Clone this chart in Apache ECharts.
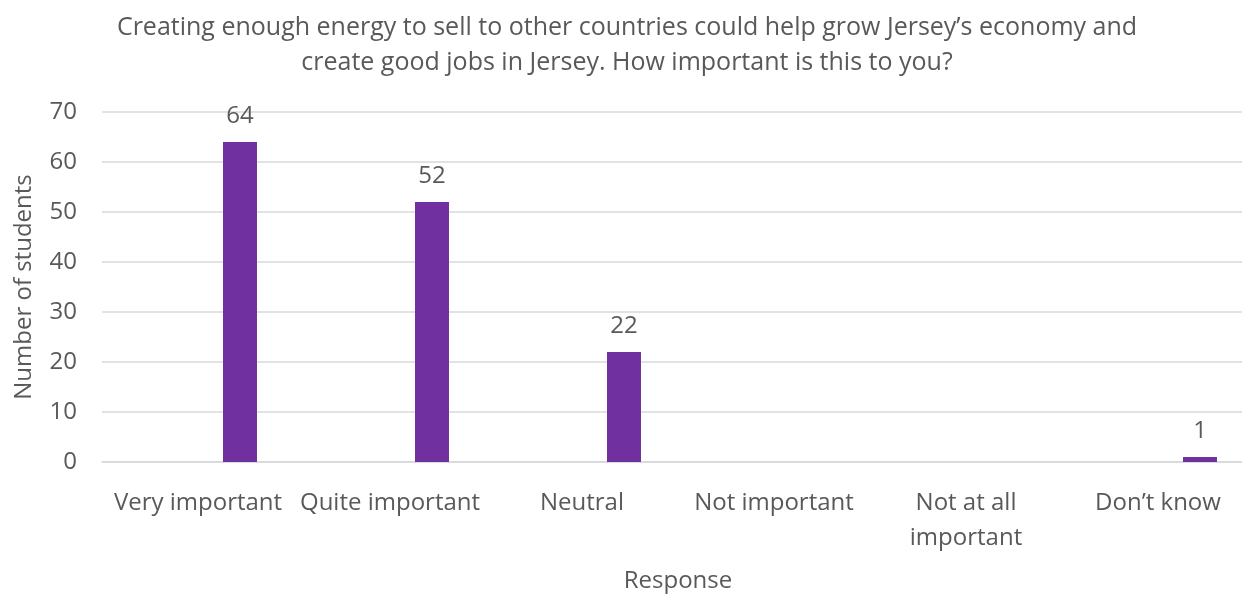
<!DOCTYPE html>
<html>
<head>
<meta charset="utf-8">
<script src="https://cdn.jsdelivr.net/npm/echarts@6/dist/echarts.min.js"></script>
<style>
html,body{margin:0;padding:0;background:#fff;}
#chart{width:1242px;height:595px;}
</style>
</head>
<body>
<div id="chart"></div>
<script>
var categories = ['Very important', 'Quite important', 'Neutral', 'Not important', 'Not at all\nimportant', 'Don\u2019t know'];
var students = [64, 52, 22, 0, 0, 1];
var yTicks = [0, 10, 20, 30, 40, 50, 60, 70];
var titleText = 'Creating enough energy to sell to other countries could help grow Jersey\u2019s economy and\ncreate good jobs in Jersey. How important is this to you?';
var emptySeries = [null, null, null, null, null, null];

var FONT = 'Open Sans';
var TXT = '#595959';
var FS = 24;
var chart = echarts.init(document.getElementById('chart'));
chart.setOption({
  animation: false,
  title: {
    text: titleText,
    left: 622, top: 5, textAlign: 'center',
    textStyle: {fontFamily: FONT, fontSize: 25, fontWeight: 'normal', color: TXT, lineHeight: 35}
  },
  grid: {left: 102, right: -12, top: 112, bottom: 133, outerBoundsMode: 'none', containLabel: false},
  xAxis: {
    type: 'category',
    data: categories,
    name: 'Response',
    nameLocation: 'middle',
    nameGap: 107,
    nameTextStyle: {fontFamily: FONT, fontSize: FS, color: TXT},
    axisLine: {lineStyle: {color: '#d9d9d9', width: 1.5}},
    axisTick: {show: false},
    axisLabel: {fontFamily: FONT, fontSize: FS, color: TXT, margin: 24, lineHeight: 35, interval: 0}
  },
  yAxis: {
    type: 'value',
    min: yTicks[0], max: yTicks[yTicks.length - 1], interval: 10,
    name: 'Number of students',
    nameLocation: 'middle',
    nameGap: 66,
    nameTextStyle: {fontFamily: FONT, fontSize: FS, color: TXT},
    axisLine: {show: false},
    axisTick: {show: false},
    axisLabel: {fontFamily: FONT, fontSize: FS, color: TXT, margin: 25},
    splitLine: {lineStyle: {color: '#d9d9d9', width: 1.5}}
  },
  series: [
    {type: 'bar', data: emptySeries, barWidth: 34, barGap: '23.5%'},
    {type: 'bar', data: emptySeries, barWidth: 34, barGap: '23.5%'},
    {
      type: 'bar', data: students, barWidth: 34, barGap: '23.5%',
      itemStyle: {color: '#7030A0'},
      label: {
        show: true, position: 'top', distance: 14, fontFamily: FONT, fontSize: FS, color: TXT,
        formatter: function (p) { return p.value ? String(p.value) : ''; }
      }
    }
  ]
});
</script>
</body>
</html>
